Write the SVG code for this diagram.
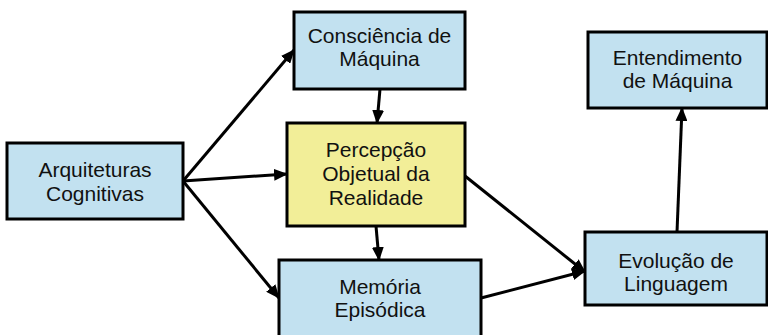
<svg xmlns="http://www.w3.org/2000/svg" width="768" height="335" viewBox="0 0 768 335">
<defs>
<style>
.box{stroke:#000;stroke-width:3;}
.blue{fill:#c2e1f0;}
.yellow{fill:#f2ee98;}
text{font-family:"Liberation Sans",Arial,sans-serif;font-size:21px;fill:#111;text-anchor:middle;}
.edge{stroke:#000;stroke-width:3;fill:none;marker-end:url(#ah);}
</style>
<marker id="ah" markerUnits="userSpaceOnUse" markerWidth="14" markerHeight="12" refX="13" refY="6" orient="auto">
<path d="M0,0 L14,6 L0,12 z" fill="#000"/>
</marker>
</defs>
<rect width="768" height="335" fill="#fff"/>
<g id="connectors">
<line class="edge" x1="183" y1="181" x2="294" y2="50"/>
<line class="edge" x1="183" y1="181" x2="287" y2="174"/>
<line class="edge" x1="183" y1="181" x2="279" y2="298"/>
<line class="edge" x1="380" y1="89" x2="377" y2="123"/>
<line class="edge" x1="376" y1="226" x2="379" y2="260"/>
<line class="edge" x1="465" y1="176" x2="585" y2="272"/>
<line class="edge" x1="481" y1="298" x2="585" y2="271"/>
<line class="edge" x1="677" y1="232" x2="682" y2="108"/>
</g>
<g id="arquiteturas">
<rect class="box blue" x="7" y="143" width="176" height="76"/>
<text x="95" y="177">Arquiteturas</text>
<text x="95" y="201">Cognitivas</text>
</g>
<g id="consciencia">
<rect class="box blue" x="294" y="12" width="171" height="77"/>
<text x="379.5" y="43">Consciência de</text>
<text x="379.5" y="66">Máquina</text>
</g>
<g id="percepcao">
<rect class="box yellow" x="287" y="123" width="178" height="103"/>
<text x="376" y="157">Percepção</text>
<text x="376" y="181">Objetual da</text>
<text x="376" y="205">Realidade</text>
</g>
<g id="memoria">
<rect class="box blue" x="279" y="260" width="202" height="80"/>
<text x="380" y="294">Memória</text>
<text x="380" y="317">Episódica</text>
</g>
<g id="entendimento">
<rect class="box blue" x="588" y="32" width="179" height="76"/>
<text x="677.5" y="65">Entendimento</text>
<text x="677.5" y="88">de Máquina</text>
</g>
<g id="evolucao">
<rect class="box blue" x="585" y="232" width="182" height="73"/>
<text x="676" y="268">Evolução de</text>
<text x="676" y="291">Linguagem</text>
</g>
</svg>
